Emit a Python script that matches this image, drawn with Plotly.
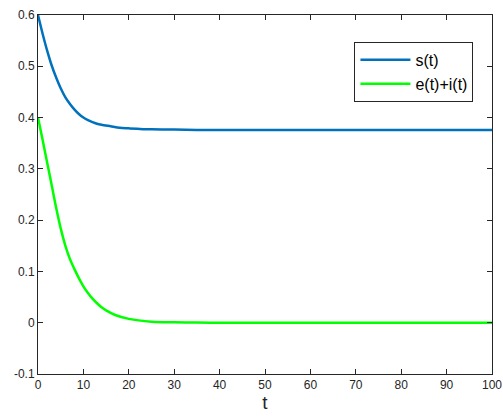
import plotly.graph_objects as go

t_s = [0, 1, 2, 3, 4, 5, 6, 7, 8, 9, 10, 11, 12, 13, 14, 16, 18, 20, 25, 30, 35, 40, 50, 60, 70, 80, 90, 100]
s_vals = [0.6, 0.564, 0.531, 0.502, 0.478, 0.457, 0.440, 0.427, 0.416, 0.407, 0.400, 0.395, 0.391,
          0.388, 0.386, 0.383, 0.380, 0.379, 0.377, 0.3765, 0.376, 0.376, 0.376, 0.376, 0.376,
          0.376, 0.376, 0.376]

t_ei = [0, 1, 2, 3, 4, 5, 6, 7, 8, 9, 10, 11, 12, 13, 14, 15, 17, 20, 25, 30, 35, 40, 50, 60, 70,
        80, 90, 100]
ei_vals = [0.4, 0.357, 0.313, 0.269, 0.224, 0.184, 0.151, 0.125, 0.105, 0.087, 0.071, 0.058, 0.047,
           0.038, 0.030, 0.024, 0.015, 0.0075, 0.002, 0.0007, 0.0002, 0.0, 0.0, 0.0, 0.0, 0.0, 0.0, 0.0]

x_ticks = [0, 10, 20, 30, 40, 50, 60, 70, 80, 90, 100]
y_ticks = [-0.1, 0, 0.1, 0.2, 0.3, 0.4, 0.5, 0.6]
y_ticktext = ["-0.1", "0", "0.1", "0.2", "0.3", "0.4", "0.5", "0.6"]

FONT = "Liberation Sans, Arial, sans-serif"
DARK = "#262626"

fig = go.Figure()
fig.add_trace(go.Scatter(x=t_s, y=s_vals, mode="lines", name="s(t)",
                         line=dict(color="#0072BD", width=2.5, shape="spline", smoothing=0.8)))
fig.add_trace(go.Scatter(x=t_ei, y=ei_vals, mode="lines", name="e(t)+i(t)",
                         line=dict(color="#00FF00", width=2.5, shape="spline", smoothing=0.8)))

axis_common = dict(showgrid=False, zeroline=False, showline=True, linecolor=DARK, linewidth=1,
                   mirror="allticks", ticks="inside", ticklen=5, tickcolor=DARK, automargin=False,
                   tickfont=dict(family=FONT, size=12, color=DARK))

fig.update_xaxes(range=[0, 100], tickvals=x_ticks, ticktext=[str(v) for v in x_ticks],
                 title=dict(text="t", font=dict(family=FONT, size=19, color=DARK), standoff=4),
                 **axis_common)
fig.update_yaxes(range=[-0.1, 0.6], tickvals=y_ticks, ticktext=y_ticktext, **axis_common)

fig.update_layout(
    width=503, height=416,
    margin=dict(l=38, r=11, t=15, b=42),
    paper_bgcolor="white", plot_bgcolor="white",
    showlegend=True,
    legend=dict(x=0.697, y=0.925, xanchor="left", yanchor="top",
                bgcolor="white", bordercolor=DARK, borderwidth=1,
                font=dict(family=FONT, size=16, color="black"),
                itemwidth=50, tracegroupgap=0),
)

fig.write_html("out.html")
